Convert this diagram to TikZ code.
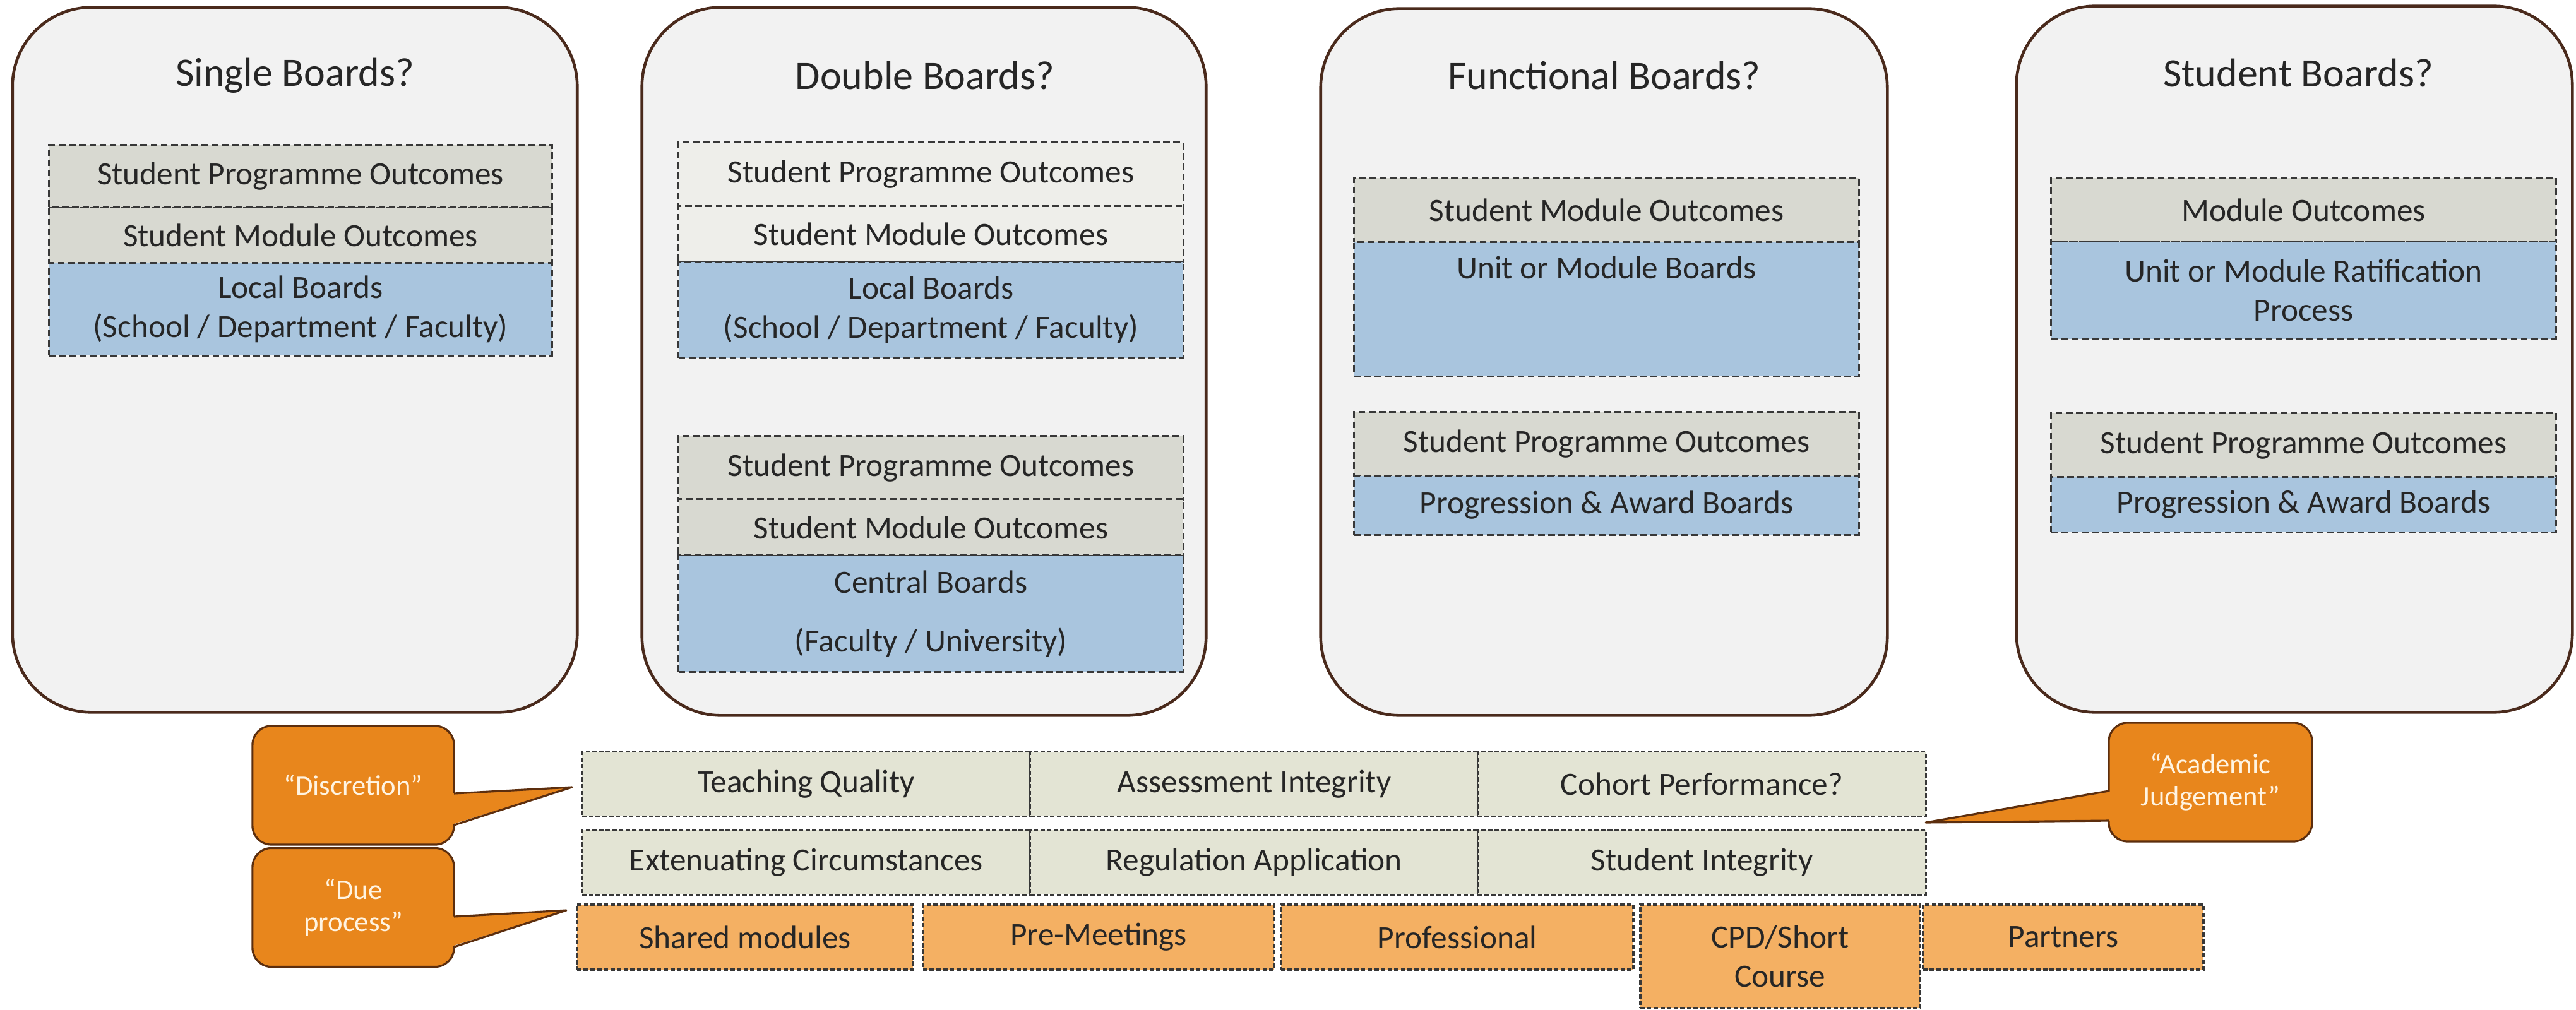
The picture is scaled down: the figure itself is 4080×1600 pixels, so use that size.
\documentclass[tikz,border=0pt]{standalone}
\usepackage{fontspec}
\setmainfont{Carlito}
\usepackage{xcolor}
\definecolor{paper}{HTML}{F2F2F2}
\definecolor{rim}{HTML}{4A2A1C}
\definecolor{ink}{HTML}{262626}
\definecolor{dashgrey}{HTML}{383838}
\definecolor{outgrey}{HTML}{D8D9D1}
\definecolor{outlight}{HTML}{EEEEEA}
\definecolor{boardblue}{HTML}{A9C5DE}
\definecolor{khaki}{HTML}{E3E4D4}
\definecolor{peach}{HTML}{F4B063}
\definecolor{flame}{HTML}{E8861C}
\definecolor{ember}{HTML}{5C2E0E}
\definecolor{cream}{HTML}{FFF4E2}
\usepackage{tikz}

\begin{document}
\begin{tikzpicture}[x=0.01cm,y=-0.01cm,
  every node/.style={font=\fontsize{14.6}{17.5}\selectfont,text=ink,align=center},
  panel/.style={draw=rim,line width=1.3pt,fill=paper,rounded corners=1.25cm,inner sep=0pt},
  head/.style={font=\fontsize{18.2}{22}\selectfont},
  box/.style={draw=dashgrey,line width=0.85pt,dash pattern=on 3pt off 1.6pt,inner sep=0pt,outer sep=0pt,minimum width=7.99cm},
  outc/.style={box,fill=outgrey},
  outl/.style={box,fill=outlight},
  board/.style={box,fill=boardblue},
  cell/.style={box,fill=khaki,minimum width=7.09cm,minimum height=1.02cm,dash pattern=on 2pt off 1pt},
  extra/.style={box,fill=peach,minimum height=1.03cm,line width=1pt,dash pattern=on 2pt off 1pt},
  bubble/.style={draw=ember,line width=0.9pt,fill=flame,rounded corners=0.3cm,inner sep=0pt,outer sep=0pt,
    minimum width=3.19cm,minimum height=1.88cm,text=cream,font=\fontsize{12.7}{14.5}\selectfont}]
\useasboundingbox (0,0) rectangle (4080,1600);

% board panels
\node[panel,minimum width=8.94cm,minimum height=11.16cm] (P1) at (467,570) {};
\node[panel,minimum width=8.93cm,minimum height=11.21cm] (P2) at (1463.5,572.5) {};
\node[panel,minimum width=8.97cm,minimum height=11.19cm] (P3) at (2540.5,573.5) {};
\node[panel,minimum width=8.80cm,minimum height=11.18cm] (P4) at (3634,569) {};
\node[head] (H1) at (467,120) {Single Boards?};
\node[head] (H2) at (1465,120) {Double Boards?};
\node[head] (H3) at (2541,120) {Functional Boards?};
\node[head] (H4) at (3640,116) {Student Boards?};

% single
\node[outc,minimum width=7.96cm,minimum height=0.99cm] (S1) at (476,279.5) {Student Programme Outcomes};
\node[outc,minimum width=7.96cm,minimum height=0.88cm] (S2) at (476,373) {Student Module Outcomes};
\node[board,minimum width=7.96cm,minimum height=1.46cm] (S3) at (476,490) {Local Boards\\(School / Department / Faculty)};

% double
\node[outl,minimum height=1.01cm] (D1) at (1474.5,276.5) {Student Programme Outcomes};
\node[outl,minimum height=0.88cm] (D2) at (1474.5,371) {Student Module Outcomes};
\node[board,minimum height=1.52cm] (D3) at (1474.5,491) {Local Boards\\(School / Department / Faculty)};
\node[outc,minimum height=1.00cm] (D4) at (1474.5,741) {Student Programme Outcomes};
\node[outc,minimum height=0.89cm] (D5) at (1474.5,835.5) {Student Module Outcomes};
\node[board,minimum height=1.84cm] (D6) at (1474.5,972) {Central Boards\\[9pt](Faculty / University)};

% functional
\node[outc,minimum height=1.02cm] (F1) at (2544.5,333) {Student Module Outcomes};
\node[board,minimum height=2.12cm] (F2) at (2544.5,490) {};
\node (F2t) at (2544.5,424) {Unit or Module Boards};
\node[outc,minimum height=1.01cm] (F3) at (2544.5,703.5) {Student Programme Outcomes};
\node[board,minimum height=0.93cm] (F4) at (2544.5,800.5) {Progression \& Award Boards};

% student
\node[outc,minimum height=1.01cm] (T1) at (3648.5,332.5) {Module Outcomes};
\node[board,minimum height=1.54cm] (T2) at (3648.5,460) {Unit or Module Ratification\\Process};
\node[outc,minimum height=1.01cm] (T3) at (3648.5,705.5) {Student Programme Outcomes};
\node[board,minimum height=0.87cm] (T4) at (3648.5,799.5) {Progression \& Award Boards};

% concerns
\node[cell] (Q1) at (1277,1242) {Teaching Quality};
\node[cell] (Q2) at (1986.5,1242) {Assessment Integrity};
\node[cell] (Q3) at (2695.5,1242) {Cohort Performance?};
\node[cell] (R1) at (1277,1366) {Extenuating Circumstances};
\node[cell] (R2) at (1986.5,1366) {Regulation Application};
\node[cell] (R3) at (2695.5,1366) {Student Integrity};

% special cases
\node[extra,minimum width=5.32cm] (O1) at (1180,1484.5) {Shared modules};
\node[extra,minimum width=5.56cm] (O2) at (1740,1484.5) {Pre-Meetings};
\node[extra,minimum width=5.58cm] (O3) at (2308,1484.5) {Professional};
\node[extra,minimum width=4.43cm,minimum height=1.64cm] (O4) at (2819.5,1515) {CPD/Short\\Course};
\node[extra,minimum width=4.44cm] (O5) at (3268,1484.5) {Partners};

% callouts
\node[bubble] (C1) at (559.5,1244) {“Discretion”};
\node[bubble] (C2) at (559.5,1437.5) {“Due\\process”};
\node[bubble,minimum width=3.22cm] (C3) at (3501,1239) {“Academic\\Judgement”};
\coordinate (C1tip) at (906,1247);
\coordinate (C2tip) at (897,1442);
\coordinate (C3tip) at (3050,1303);
\fill[flame] ([yshift=-0.13cm,xshift=-2pt]C1.east) -- (C1tip) -- ([yshift=-0.63cm,xshift=-2pt]C1.east) -- cycle;
\draw[ember,line width=0.9pt,line join=round] ([yshift=-0.13cm]C1.east) -- (C1tip) -- ([yshift=-0.63cm]C1.east);
\fill[flame] ([yshift=-0.145cm,xshift=-2pt]C2.east) -- (C2tip) -- ([yshift=-0.625cm,xshift=-2pt]C2.east) -- cycle;
\draw[ember,line width=0.9pt,line join=round] ([yshift=-0.145cm]C2.east) -- (C2tip) -- ([yshift=-0.625cm]C2.east);
\fill[flame] ([yshift=-0.14cm,xshift=2pt]C3.west) -- (C3tip) -- ([yshift=-0.61cm,xshift=2pt]C3.west) -- cycle;
\draw[ember,line width=0.9pt,line join=round] ([yshift=-0.14cm]C3.west) -- (C3tip) -- ([yshift=-0.61cm]C3.west);
\end{tikzpicture}
\end{document}
